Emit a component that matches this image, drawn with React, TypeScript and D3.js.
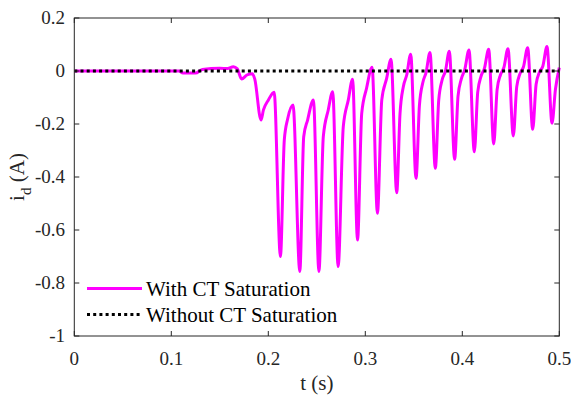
import React from "react";
import * as d3 from "d3";

const tWith: number[] = [
  0, 0.05, 0.108, 0.112, 0.125, 0.132, 0.15, 0.158, 0.164, 0.168, 0.1725, 0.178, 0.1835, 0.186,
  0.1925, 0.195, 0.2, 0.206,
  0.2125, 0.2165, 0.22, 0.2255,
  0.2325, 0.2365, 0.2405, 0.2465,
  0.2522, 0.2567, 0.2618, 0.2664,
  0.272, 0.2773, 0.2825, 0.2869,
  0.292, 0.2963, 0.3013, 0.307,
  0.3125, 0.317, 0.322, 0.3265,
  0.3324, 0.3358, 0.3392, 0.3427, 0.3468,
  0.3523, 0.3558, 0.3592, 0.3627, 0.3667,
  0.3722, 0.3757, 0.3791, 0.3826, 0.3866,
  0.3921, 0.3956, 0.399, 0.4025, 0.4069,
  0.4124, 0.4159, 0.4193, 0.4228, 0.4272,
  0.4324, 0.4359, 0.4393, 0.4428, 0.4471,
  0.4526, 0.4561, 0.4595, 0.463, 0.4674,
  0.4726, 0.4761, 0.4795, 0.483, 0.4873,
  0.4925, 0.496, 0.5,
];
const idWith: number[] = [
  0, 0, 0, -0.008, -0.008, 0.006, 0.01, 0.009, 0.016, 0.008, -0.03, -0.015, -0.01, -0.03,
  -0.185, -0.147, -0.11, -0.08,
  -0.7, -0.26, -0.18, -0.128,
  -0.757, -0.248, -0.185, -0.109,
  -0.757, -0.248, -0.147, -0.078,
  -0.738, -0.21, -0.109, -0.031,
  -0.638, -0.16, -0.065, 0.014,
  -0.537, -0.109, -0.028, 0.044,
  -0.459, -0.16, -0.059, -0.015, 0.063,
  -0.405, -0.13, -0.045, -0.005, 0.07,
  -0.367, -0.11, -0.035, 0.0, 0.075,
  -0.333, -0.095, -0.03, 0.005, 0.079,
  -0.305, -0.08, -0.02, 0.01, 0.082,
  -0.275, -0.07, -0.015, 0.012, 0.084,
  -0.245, -0.06, -0.01, 0.015, 0.088,
  -0.22, -0.05, -0.005, 0.018, 0.092,
  -0.197, -0.07, 0.013,
];
const tWithout: number[] = [0, 0.5];
const idWithout: number[] = [0, 0];

const xTicks: number[] = [0, 0.1, 0.2, 0.3, 0.4, 0.5];
const yTicks: number[] = [0.2, 0, -0.2, -0.4, -0.6, -0.8, -1];
const legendLabels: string[] = ["With CT Saturation", "Without CT Saturation"];

const W = 571;
const H = 395;
const L = 74.3;
const R = 559.3;
const T = 18;
const B = 336;
const axisColor = "#262626";
const font = '"Liberation Serif", "Times New Roman", serif';
const fs = { fontFamily: font };

export default function App() {
  const x = d3.scaleLinear().domain([0, 0.5]).range([L, R]);
  const y = d3.scaleLinear().domain([-1, 0.2]).range([B, T]);
  const line = d3
    .line<[number, number]>()
    .x((d) => x(d[0]))
    .y((d) => y(d[1]))
    .curve(d3.curveMonotoneX);
  const withPts: [number, number][] = tWith.map((t, i) => [t, idWith[i]]);
  const withoutPts: [number, number][] = tWithout.map((t, i) => [t, idWithout[i]]);
  const tickLen = 5;

  return (
    <svg
      width={W}
      height={H}
      style={{ position: "absolute", left: 0, top: 0, background: "#fff", fontFamily: font }}
    >
      <rect x={0} y={0} width={W} height={H} fill="#fff" />
      <defs>
        <clipPath id="plot">
          <rect x={L} y={T - 5} width={R - L + 3} height={B - T + 5} />
        </clipPath>
      </defs>
      <g clipPath="url(#plot)">
        <path d={line(withPts) || ""} fill="none" stroke="#ff00ff" strokeWidth={3} strokeLinejoin="round" />
        <path d={line(withoutPts) || ""} fill="none" stroke="#000" strokeWidth={3} strokeDasharray="3 3.2" />
      </g>
      <rect x={L} y={T} width={R - L} height={B - T} fill="none" stroke={axisColor} strokeWidth={1} />
      {xTicks.map((t) => (
        <g key={"x" + t}>
          <line x1={x(t)} x2={x(t)} y1={B} y2={B - tickLen} stroke={axisColor} />
          <line x1={x(t)} x2={x(t)} y1={T} y2={T + tickLen} stroke={axisColor} />
          <text x={x(t)} y={365} textAnchor="middle" fontSize={19} fill={axisColor} style={fs}>
            {String(t)}
          </text>
        </g>
      ))}
      {yTicks.map((v) => (
        <g key={"y" + v}>
          <line x1={L} x2={L + tickLen} y1={y(v)} y2={y(v)} stroke={axisColor} />
          <line x1={R} x2={R - tickLen} y1={y(v)} y2={y(v)} stroke={axisColor} />
          <text x={65} y={y(v) + 6} textAnchor="end" fontSize={19} fill={axisColor} style={fs}>
            {String(v)}
          </text>
        </g>
      ))}
      <text x={(L + R) / 2} y={390} textAnchor="middle" fontSize={21} fill={axisColor} style={fs}>
        t (s)
      </text>
      <text
        transform={`translate(24, ${(T + B) / 2}) rotate(-90)`}
        textAnchor="middle"
        fontSize={21}
        fill={axisColor}
        style={fs}
      >
        i<tspan fontSize={15} dy={7}>d</tspan>
        <tspan dy={-7}> (A)</tspan>
      </text>
      <line x1={87} x2={142} y1={288.5} y2={288.5} stroke="#ff00ff" strokeWidth={3} />
      <line x1={87} x2={142} y1={314.5} y2={314.5} stroke="#000" strokeWidth={3} strokeDasharray="3 3.2" />
      <text x={146} y={296} fontSize={21} fill="#000" style={fs}>
        {legendLabels[0]}
      </text>
      <text x={146} y={322} fontSize={21} fill="#000" style={fs}>
        {legendLabels[1]}
      </text>
    </svg>
  );
}
